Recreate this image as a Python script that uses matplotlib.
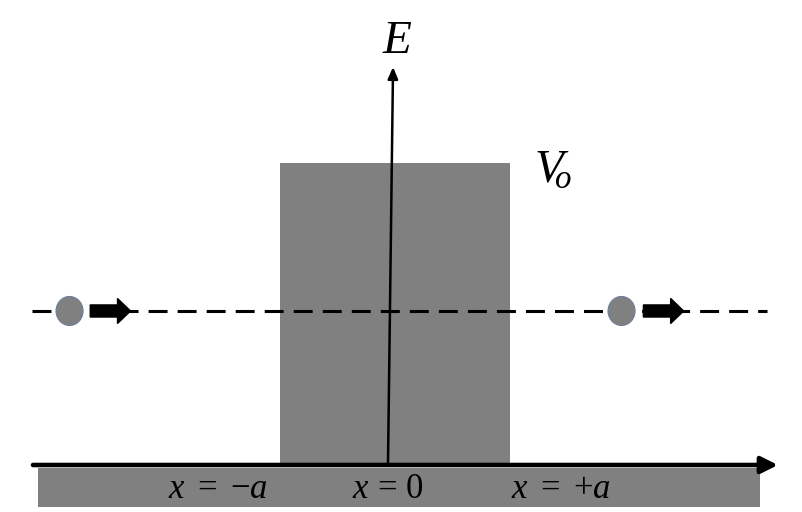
import matplotlib.pyplot as plt
from matplotlib.patches import Rectangle, Ellipse, FancyArrow

plt.rcParams['mathtext.fontset'] = 'custom'
plt.rcParams['mathtext.rm'] = 'Liberation Serif'
plt.rcParams['mathtext.it'] = 'Liberation Serif:italic'

# diagram values (units: a for x, V0 for energy)
a = 1.0
V0 = 1.0
E = 0.51
barrier = [-a, a]
particle_x = [-2.83, 1.97]
arrow_x = [(-2.65, -2.30), (2.16, 2.51)]
x_labels = [r'$x\,\,=\,\,{-}a$', r'$x\,=\,0$', r'$x\,\,=\,\,{+}a$']
x_label_pos = [-1.54, -0.06, 1.44]

gray = '#808080'

fig = plt.figure(figsize=(8.03, 5.12), dpi=100)
ax = fig.add_axes([0, 0, 1, 1])
ax.set_xlim(-395 / 115, 408 / 115)
ax.set_ylim(-47 / 302, 465 / 302)
ax.axis('off')

# ground band under the x axis
ax.add_patch(Rectangle((-3.104, -0.139), 6.278, 0.129, color=gray, lw=0, zorder=1))

# barrier
ax.add_patch(Rectangle((barrier[0], 0), barrier[1] - barrier[0], V0, color=gray, lw=0, zorder=1))

# energy level (dashed)
ax.plot([-3.16, 3.235], [E, E], color='k', lw=2.2, linestyle=(0, (6.2, 3.3)), zorder=2)

# x axis
ax.annotate('', xy=(3.33, 0), xytext=(-3.148, 0),
            arrowprops=dict(arrowstyle='-|>,head_length=0.5,head_width=0.25',
                            mutation_scale=20, lw=3.3, color='k',
                            shrinkA=0, shrinkB=0), zorder=3)

# E axis
ax.annotate('', xy=(-0.017, 1.318), xytext=(-0.061, 0),
            arrowprops=dict(arrowstyle='-|>,head_length=0.35,head_width=0.15',
                            mutation_scale=20, lw=1.8, color='k',
                            shrinkA=0, shrinkB=0), zorder=3)

# particles and their direction arrows
for px, (x0, x1) in zip(particle_x, arrow_x):
    ax.add_patch(Ellipse((px, E), 0.235, 0.096, facecolor=gray,
                         edgecolor='#6d7d99', lw=0.8, zorder=4))
    ax.add_patch(FancyArrow(x0, E, x1 - x0, 0, width=0.04, head_width=0.083,
                            head_length=0.113, length_includes_head=True,
                            color='k', zorder=4))

# labels
ax.text(0.017, 1.364, 'E', family='Liberation Serif', style='italic',
        fontsize=34, ha='center', va='baseline')
ax.text(1.21, 0.934, r'$V_{\!\!o}$', fontsize=34, ha='left', va='baseline')

for lab, xp in zip(x_labels, x_label_pos):
    ax.text(xp, -0.109, lab, fontsize=25, ha='center', va='baseline')

fig.savefig('out.png', dpi=100)
